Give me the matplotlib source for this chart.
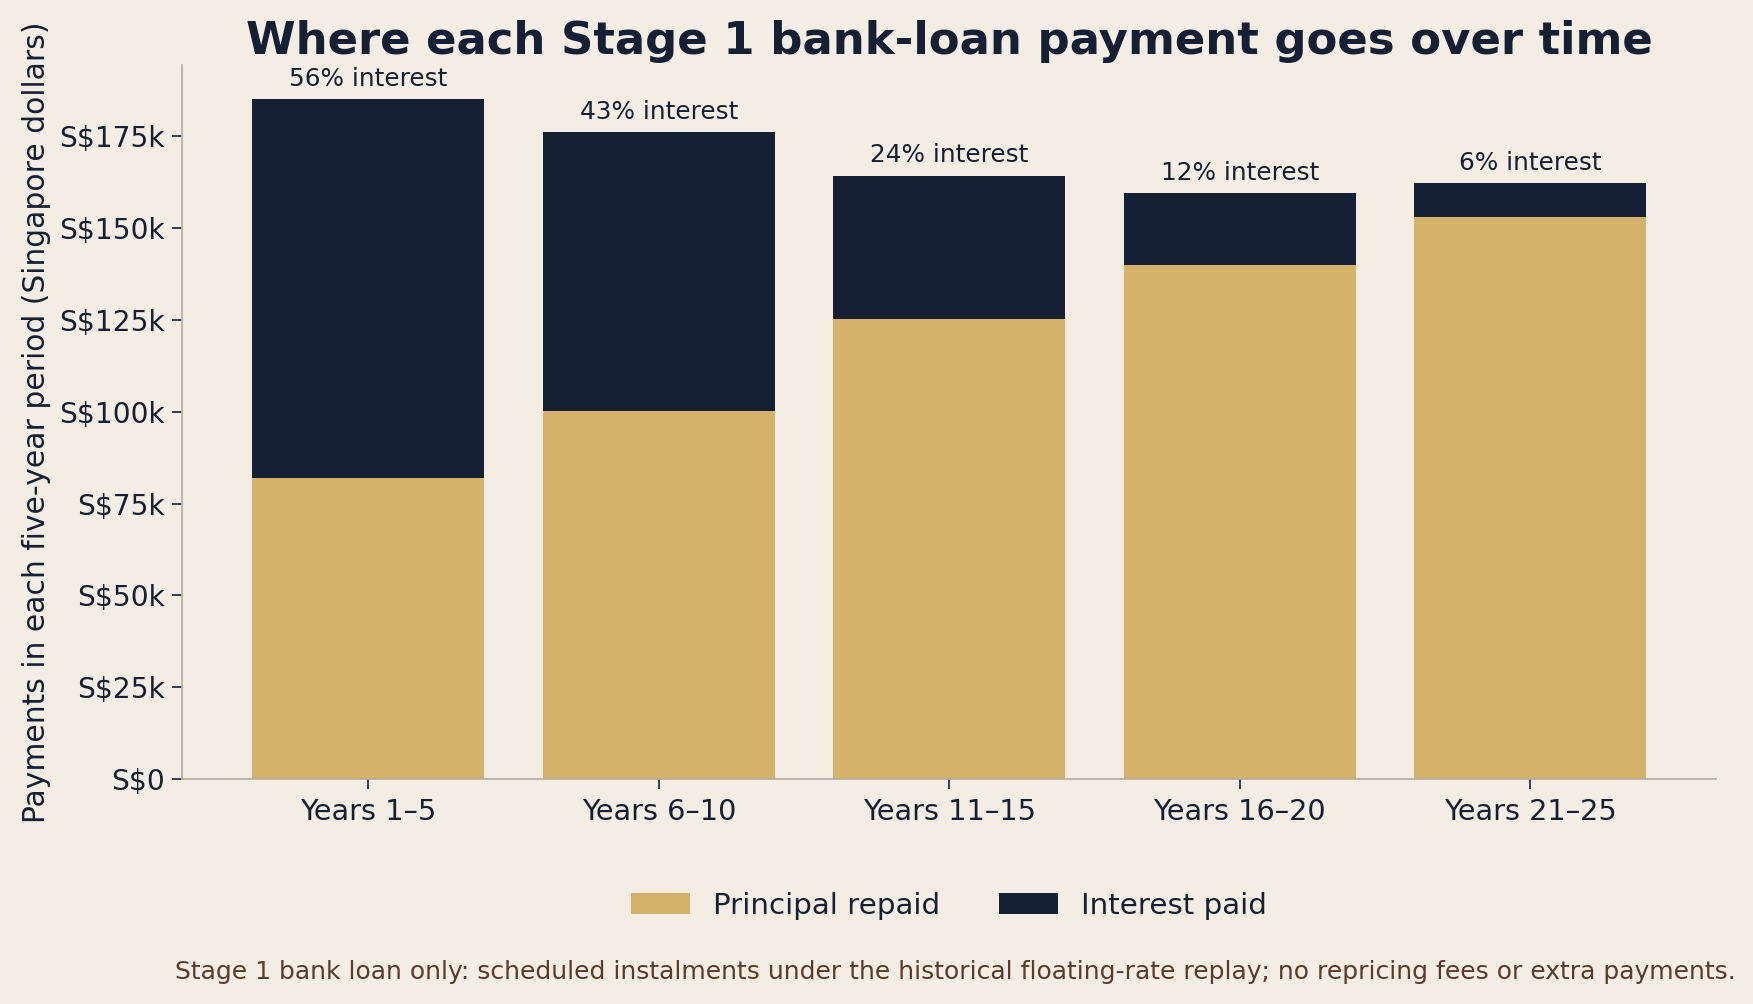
import numpy as np
import matplotlib.pyplot as plt

# 数据（单位：千新元）
periods = ['Years 1–5', 'Years 6–10', 'Years 11–15', 'Years 16–20', 'Years 21–25']
principal = [82.0, 100.2, 125.3, 139.9, 153.0]
interest = [103.1, 76.0, 39.0, 19.6, 9.2]
interest_labels = ['56% interest', '43% interest', '24% interest', '12% interest', '6% interest']

BG = '#F4EDE4'
NAVY = '#152034'
GOLD = '#D4B26A'
SPINE = '#B5ABA0'
NOTE = '#5A3B2C'

fig = plt.figure(figsize=(1753 / 150, 1004 / 150), dpi=150, facecolor=BG)
ax = fig.add_axes([0.104, 0.224, 0.875, 0.711])
ax.set_facecolor(BG)

x = np.arange(len(periods))
p_vals = np.array(principal) * 1000
i_vals = np.array(interest) * 1000
ax.bar(x, p_vals, width=0.8, color=GOLD, label='Principal repaid')
ax.bar(x, i_vals, width=0.8, bottom=p_vals, color=NAVY, label='Interest paid')

# 柱顶标注利息占比
for xi, tot, lab in zip(x, p_vals + i_vals, interest_labels):
    ax.annotate(lab, (xi, tot), xytext=(0, 4), textcoords='offset points',
                ha='center', va='bottom', fontsize=11.9, color=NAVY)

ax.set_xticks(x)
ax.set_xticklabels(periods)
yt = np.arange(0, 175001, 25000)
ax.set_yticks(yt)
ax.set_yticklabels(['S$0' if v == 0 else f'S${int(v / 1000)}k' for v in yt])
ax.tick_params(axis='y', labelsize=13.5, colors=NAVY, length=5)
ax.tick_params(axis='x', labelsize=13.8, colors=NAVY, length=5, pad=4)

for s in ['top', 'right']:
    ax.spines[s].set_visible(False)
for s in ['left', 'bottom']:
    ax.spines[s].set_color(SPINE)

ax.set_ylabel('Payments in each five-year period (Singapore dollars)', fontsize=14.3, color=NAVY)
ax.set_title('Where each Stage 1 bank-loan payment goes over time', fontsize=21.6,
             fontweight='bold', color=NAVY, pad=5.5)

fig.legend(loc='center', bbox_to_anchor=(0.5415, 0.098), ncol=2, frameon=False,
           fontsize=14.1, handlelength=2.0, columnspacing=2.0, labelcolor=NAVY)

fig.text(0.990, 0.032, 'Stage 1 bank loan only: scheduled instalments under the historical '
         'floating-rate replay; no repricing fees or extra payments.',
         ha='right', va='center', fontsize=12, color=NOTE)

fig.savefig('out.png', dpi=150, facecolor=BG)
